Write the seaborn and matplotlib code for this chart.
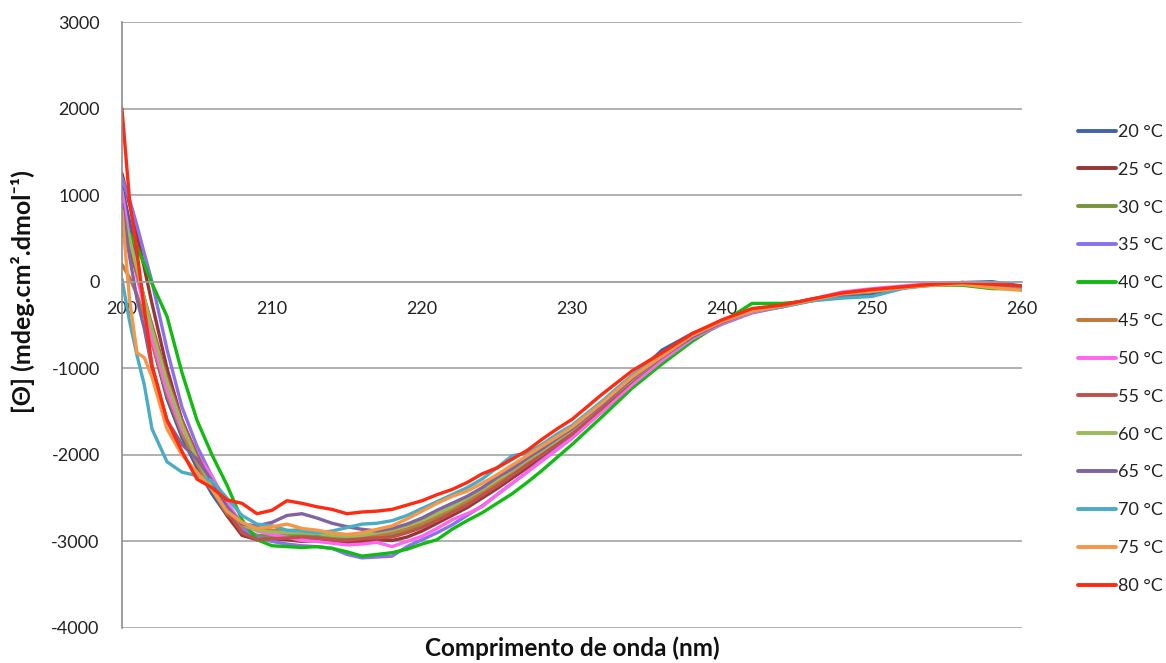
import numpy as np
import pandas as pd
import seaborn as sns
import matplotlib
matplotlib.use("Agg")
import matplotlib.pyplot as plt

# Wavelength grid (nm)
wavelength = [200, 200.5, 201, 201.5, 202, 203, 204, 205, 206, 207, 208, 209, 210,
              211, 212, 213, 214, 215, 216, 217, 218, 219, 220, 221, 222, 223, 224,
              225, 226, 227, 228, 229, 230, 232, 234, 236, 238, 240, 242, 244, 246,
              248, 250, 252, 254, 256, 258, 260]

# Molar ellipticity per temperature
t20 = [1100, 700, 200, -250, -700, -1350, -1800, -2150, -2450, -2700, -2880, -2950, -2960,
       -2950, -2940, -2930, -2950, -2970, -2980, -2960, -2930, -2880, -2810, -2730, -2640,
       -2540, -2440, -2330, -2220, -2100, -1980, -1860, -1740, -1430, -1110, -790, -600,
       -460, -340, -280, -200, -180, -150, -60, -30, -10, 0, -50]
t25 = [1250, 900, 550, 150, -250, -1000, -1600, -2000, -2350, -2700, -2930, -2980, -2970,
       -2980, -3000, -2990, -3010, -3020, -3000, -2980, -2990, -2950, -2880, -2790, -2700,
       -2610, -2500, -2390, -2270, -2150, -2020, -1900, -1780, -1480, -1160, -880, -630,
       -470, -340, -280, -210, -140, -100, -60, -30, -10, -20, -60]
t30 = [900, 500, 150, -200, -550, -1150, -1650, -2050, -2380, -2650, -2850, -2930, -2940,
       -2920, -2930, -2950, -2960, -2950, -2940, -2930, -2920, -2880, -2820, -2740, -2650,
       -2550, -2450, -2340, -2230, -2110, -2000, -1870, -1750, -1450, -1150, -880, -640,
       -470, -350, -290, -220, -150, -110, -70, -30, -10, -60, -80]
t35 = [1200, 950, 650, 320, 0, -780, -1450, -1900, -2250, -2600, -2850, -2950, -3000,
       -3030, -3050, -3060, -3080, -3150, -3190, -3180, -3170, -3060, -2980, -2900, -2810,
       -2700, -2590, -2460, -2330, -2200, -2060, -1930, -1800, -1500, -1200, -920, -660,
       -490, -360, -290, -210, -140, -100, -60, -30, -10, -30, -60]
t40 = [700, 550, 400, 200, -20, -400, -1050, -1600, -2000, -2350, -2750, -2980, -3050,
       -3060, -3070, -3060, -3080, -3120, -3170, -3150, -3130, -3090, -3030, -2980, -2860,
       -2760, -2670, -2560, -2450, -2320, -2180, -2030, -1880, -1560, -1230, -950, -690,
       -470, -250, -250, -220, -150, -110, -70, -40, -40, -80, -80]
t45 = [200, 50, -150, -400, -700, -1300, -1750, -2100, -2400, -2680, -2830, -2850, -2870,
       -2880, -2860, -2880, -2900, -2930, -2950, -2930, -2900, -2850, -2790, -2710, -2620,
       -2530, -2430, -2320, -2200, -2080, -1960, -1840, -1720, -1420, -1120, -860, -630,
       -460, -340, -280, -210, -140, -100, -60, -30, -20, -50, -90]
t50 = [1050, 500, 50, -300, -650, -1250, -1700, -2000, -2250, -2550, -2800, -2880, -2920,
       -2950, -2990, -3000, -3020, -3040, -3030, -3010, -3060, -3000, -2940, -2850, -2750,
       -2680, -2600, -2460, -2330, -2200, -2070, -1940, -1810, -1500, -1190, -910, -660,
       -480, -350, -280, -200, -120, -80, -50, -20, -10, -30, -60]
t55 = [600, 350, 100, -200, -500, -1100, -1600, -2000, -2350, -2650, -2900, -2980, -2970,
       -2960, -2950, -2960, -2980, -2990, -2970, -2960, -2950, -2900, -2840, -2760, -2670,
       -2580, -2470, -2360, -2240, -2120, -2000, -1880, -1760, -1460, -1150, -870, -630,
       -460, -330, -270, -200, -140, -100, -60, -30, -20, -40, -70]
t60 = [850, 500, 150, -200, -550, -1150, -1650, -2050, -2350, -2620, -2800, -2870, -2890,
       -2900, -2900, -2910, -2930, -2940, -2930, -2900, -2870, -2820, -2760, -2680, -2600,
       -2500, -2400, -2290, -2180, -2060, -1950, -1830, -1710, -1420, -1130, -870, -640,
       -470, -340, -280, -210, -140, -110, -70, -40, -20, -60, -90]
t65 = [900, 300, -200, -550, -1000, -1600, -1880, -2050, -2300, -2600, -2800, -2820, -2780,
       -2700, -2680, -2730, -2790, -2830, -2860, -2880, -2850, -2800, -2730, -2640, -2560,
       -2480, -2380, -2260, -2160, -2040, -1930, -1810, -1700, -1420, -1120, -870, -640,
       -470, -340, -280, -210, -150, -110, -70, -30, -10, -20, -60]
t70 = [30, -450, -850, -1200, -1700, -2080, -2200, -2240, -2300, -2500, -2700, -2800, -2820,
       -2870, -2880, -2900, -2880, -2840, -2800, -2790, -2760, -2700, -2620, -2540, -2460,
       -2380, -2280, -2150, -2010, -1980, -1880, -1760, -1660, -1380, -1080, -840, -610,
       -450, -340, -290, -220, -190, -170, -80, -30, -20, -40, -70]
t75 = [820, -200, -820, -880, -1100, -1700, -2000, -2200, -2400, -2650, -2780, -2850, -2830,
       -2800, -2850, -2870, -2900, -2920, -2900, -2860, -2820, -2740, -2650, -2560, -2480,
       -2420, -2330, -2230, -2120, -2010, -1900, -1790, -1680, -1400, -1100, -860, -620,
       -460, -340, -280, -210, -140, -110, -70, -40, -30, -70, -100]
t80 = [2000, 950, 350, -330, -960, -1600, -1960, -2280, -2380, -2520, -2560, -2680, -2640,
       -2530, -2560, -2600, -2630, -2680, -2660, -2650, -2630, -2580, -2530, -2460, -2400,
       -2320, -2220, -2150, -2050, -1950, -1820, -1700, -1590, -1300, -1030, -820, -600,
       -440, -310, -270, -200, -130, -90, -60, -30, -10, -30, -50]

temperatures = ["20 °C", "25 °C", "30 °C", "35 °C", "40 °C", "45 °C", "50 °C",
                "55 °C", "60 °C", "65 °C", "70 °C", "75 °C", "80 °C"]
series = [t20, t25, t30, t35, t40, t45, t50, t55, t60, t65, t70, t75, t80]
colors = ["#3F63A6", "#953735", "#77933C", "#8A72EE", "#11BB11", "#C07A3C", "#FF66F0",
          "#C0504D", "#9BBB59", "#8064A2", "#4BACC6", "#F79646", "#FF2A12"]

x_ticks = [200, 210, 220, 230, 240, 250, 260]
y_ticks = [-4000, -3000, -2000, -1000, 0, 1000, 2000, 3000]

frames = [pd.DataFrame({"wavelength": wavelength, "theta": vals, "temp": name})
          for name, vals in zip(temperatures, series)]
df = pd.concat(frames, ignore_index=True)

sns.set_theme(style="white")
plt.rcParams["font.family"] = ["Lato", "DejaVu Sans"]

fig = plt.figure(figsize=(11.66, 6.63), dpi=100)
ax = fig.add_axes([0.1046, 0.0528, 0.772, 0.914])

sns.lineplot(data=df, x="wavelength", y="theta", hue="temp", hue_order=temperatures,
             palette=dict(zip(temperatures, colors)), linewidth=2.4, errorbar=None,
             estimator=None, sort=True, ax=ax)

ax.set_xlim(200, 260)
ax.set_ylim(-4000, 3000)
ax.set_xticks(x_ticks)
ax.set_yticks(y_ticks)
ax.set_xticklabels([str(v) for v in x_ticks])
ax.set_yticklabels([str(v) for v in y_ticks])

grid_c = "#A3A3A3"
ax.yaxis.grid(True, color=grid_c, linewidth=1.2)
ax.xaxis.grid(False)
ax.set_axisbelow(True)

for side in ["top", "right"]:
    ax.spines[side].set_visible(False)
ax.spines["left"].set_color("#8C8C8C")
ax.spines["left"].set_linewidth(1.2)
ax.spines["bottom"].set_position(("data", 0))
ax.spines["bottom"].set_color(grid_c)
ax.spines["bottom"].set_linewidth(1.2)

ax.tick_params(axis="y", direction="out", length=6, width=1.1, color="#8C8C8C",
               labelsize=13, labelcolor="#222222", pad=10)
ax.tick_params(axis="x", direction="inout", length=8, width=1.1, color="#8C8C8C",
               labelsize=13, labelcolor="#222222", pad=10)

ax.set_xlabel("Comprimento de onda (nm)", fontsize=17.5, fontweight="bold",
              color="#111111", labelpad=0)
ax.xaxis.set_label_coords(0.5, -0.014)
ax.set_ylabel("[Θ] (mdeg.cm².dmol⁻¹)", fontsize=18, fontweight="bold", color="#111111")
ax.yaxis.set_label_coords(-0.097, 0.555)

handles, labels = ax.get_legend_handles_labels()
leg = ax.legend(handles, labels, loc="center left", bbox_to_anchor=(1.054, 0.444),
                frameon=False, fontsize=13, handlelength=2.1, handletextpad=0.1,
                labelspacing=1.21, borderaxespad=0)
for line in leg.get_lines():
    line.set_linewidth(2.8)
for txt in leg.get_texts():
    txt.set_color("#222222")

fig.savefig("out.png", dpi=100, facecolor="white")
